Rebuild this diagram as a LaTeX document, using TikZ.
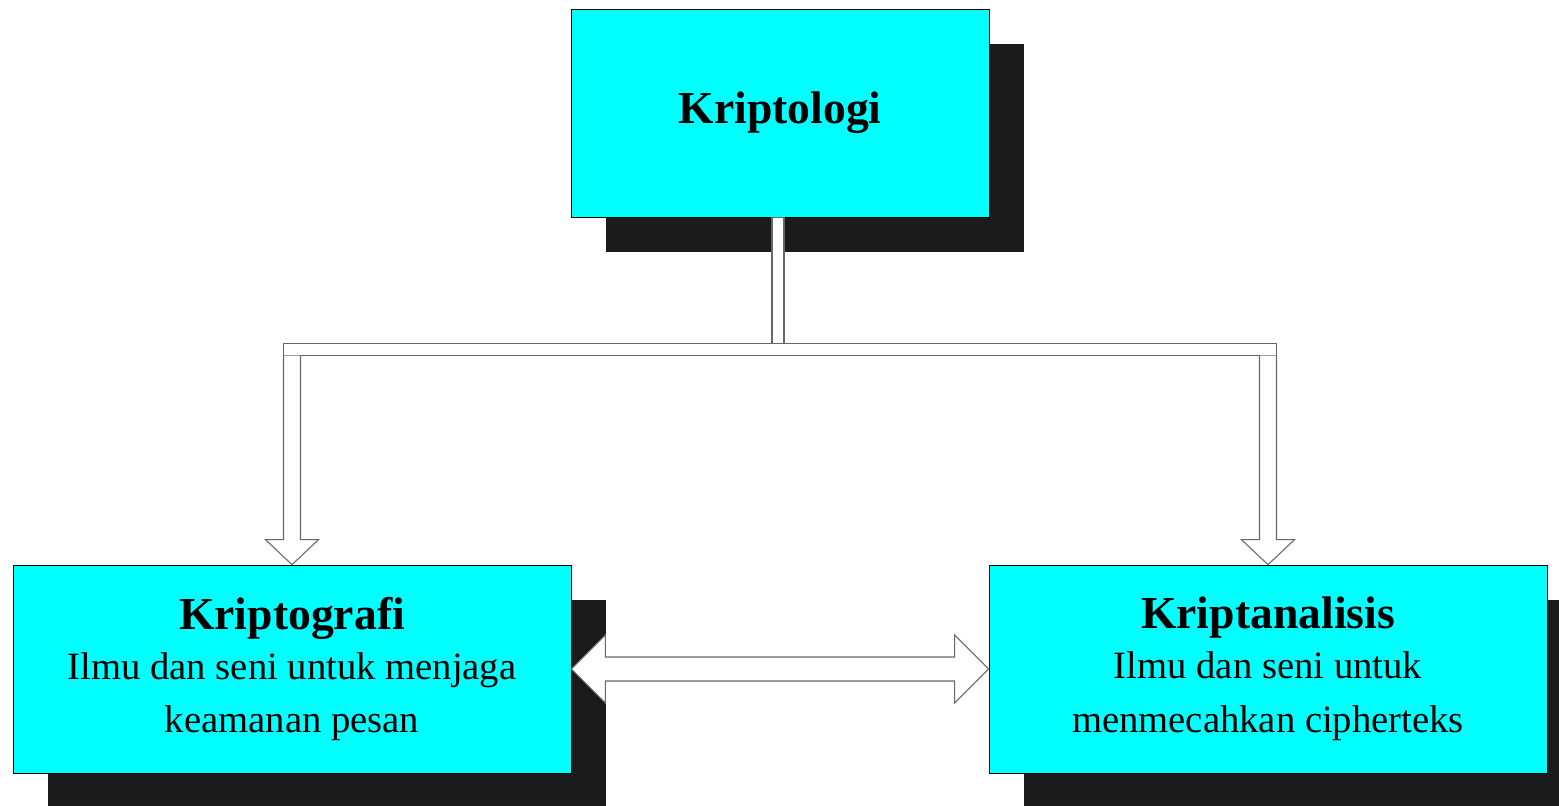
\documentclass[tikz,border=0pt]{standalone}
\usepackage{fontspec}
\setmainfont{Liberation Serif}
\usetikzlibrary{calc, shadows}
\definecolor{boxcyan}{RGB}{0,255,255}
\definecolor{shadowgray}{RGB}{27,27,27}
\tikzset{
  box/.style={draw=black, line width=0.4pt, fill=boxcyan, align=center, minimum height=4.16cm,
    drop shadow={shadow xshift=0.7cm, shadow yshift=-0.7cm, opacity=1, fill=shadowgray}},
  blockarrow/.style={draw=black!60, line width=0.6pt, fill=white, line join=miter},
}
\newcommand{\headfont}{\fontsize{26}{30}\selectfont\bfseries}
\newcommand{\bodyfont}{\fontsize{22}{30.5}\selectfont}

\begin{document}
\begin{tikzpicture}[x=0.02cm, y=0.02cm]
    \useasboundingbox (0,0) rectangle (1559,-805);
    \node (top) [box, minimum width=8.36cm] at (780,-113) {\headfont\raisebox{-3pt}{Kriptologi}};
    \node (lft) [box, minimum width=11.16cm, font=\bodyfont] at (292,-669)
        {{\headfont Kriptografi}\\[-2pt] Ilmu dan seni untuk menjaga\\ keamanan pesan};
    \node (rgt) [box, minimum width=11.16cm, font=\bodyfont] at (1268,-669)
        {{\headfont Kriptanalisis}\\[-2pt] Ilmu dan seni untuk\\ menmecahkan cipherteks};
    % stem and bar
    \draw[blockarrow] ($(top.south)+(-8,0)$) rectangle ($(top.south)+(4,-127)$);
    \draw[blockarrow] ($(lft.north)+(-8.5,221)$) rectangle ($(rgt.north)+(8.5,209)$);
    % arrows down
    \foreach \n in {lft, rgt}
        \draw[blockarrow] ($(\n.north)+(-8.5,209)$) -- ($(\n.north)+(-8.5,25)$) -- ++(-18,0)
            -- (\n.north) -- ($(\n.north)+(26.5,25)$) -- ++(-18,0) -- ($(\n.north)+(8.5,209)$);
    % double arrow
    \draw[blockarrow] (lft.east) -- ++(34,34) -- ++(0,-22) -- ($(rgt.west)+(-34,12)$) -- ++(0,22)
        -- (rgt.west) -- ++(-34,-34) -- ++(0,22) -- ($(lft.east)+(34,-12)$) -- ++(0,-22) -- cycle;
\end{tikzpicture}
\end{document}
